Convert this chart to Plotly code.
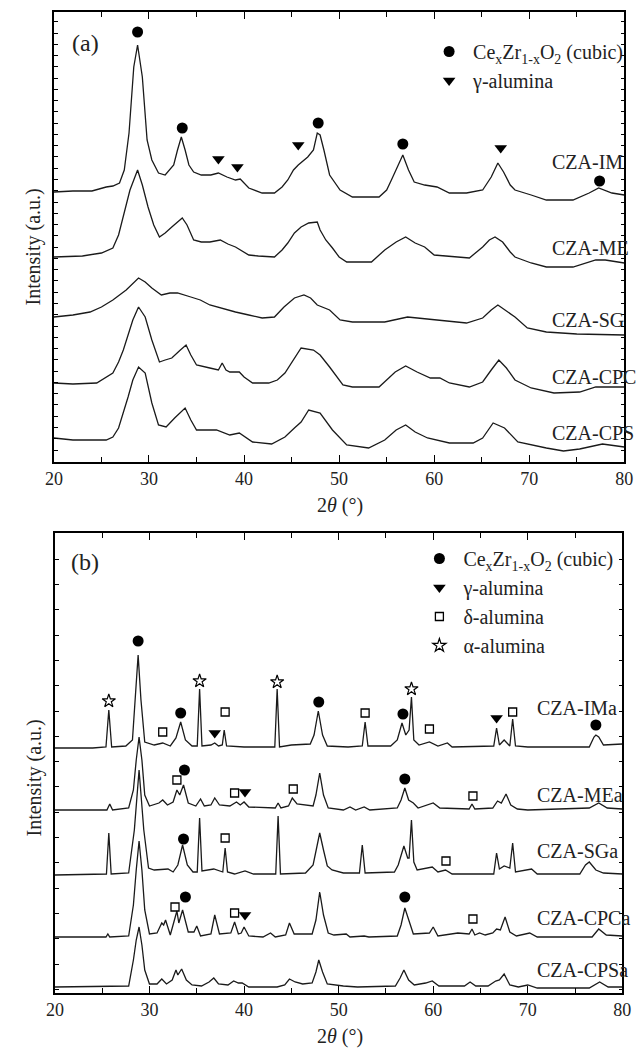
import plotly.graph_objects as go

# ---------------- Panel (a) data (2theta in degrees, intensity in a.u. incl. offset) ----------
im_x = [20, 22, 24, 25.5, 26.2, 26.9, 27.4, 27.9, 28.4, 28.8, 29.3, 29.8, 30.3, 31.0, 31.7, 32.6, 33.0, 33.4, 33.8, 34.2,
        34.7, 35.5, 36.5, 37.3, 38.2, 39.1, 39.6, 40.5, 41.9, 43.2, 44.0, 44.6, 45.2, 45.7, 46.7, 47.3, 47.7, 48.0, 48.4,
        49.0, 50.1, 51.4, 54.2, 55.0, 55.5, 56.2, 56.7, 57.3, 57.9, 59.0, 60.3, 61.6, 63.4, 65.1, 66.0, 66.7, 67.3, 68.0,
        68.5, 70.2, 71.8, 74.6, 76.3, 77.3, 78.7, 80]
im_y = [270, 271, 271, 275, 276, 279, 292, 329, 395, 417, 385, 322, 302, 289, 287, 297, 312, 325, 312, 297,
        290, 287, 287, 289, 285, 282, 283, 274, 269, 269, 275, 282, 292, 297, 305, 312, 329, 327, 312,
        287, 272, 265, 265, 272, 282, 297, 307, 292, 280, 277, 275, 269, 269, 272, 285, 299, 290, 277,
        272, 267, 262, 262, 269, 274, 269, 267]

me_x = [20, 23, 25, 26.2, 26.8, 27.3, 28.0, 28.8, 29.3, 29.9, 30.5, 31.1, 31.7, 32.4, 33.0, 33.5, 34.0, 34.7, 35.5, 36.4,
        37.5, 38.3, 39.1, 40.5, 41.5, 43.2, 44.0, 44.6, 45.3, 46.0, 46.8, 47.7, 48.0, 48.6, 49.3, 50.0, 50.8, 53.4, 54.8,
        56.0, 57.0, 58.0, 59.0, 60.0, 63.7, 65.1, 65.8, 66.4, 67.2, 68.0, 68.5, 70.2, 71.8, 74.6, 77.0, 78.0, 80]
me_y = [205, 206, 209, 214, 227, 245, 272, 292, 277, 255, 237, 225, 229, 235, 240, 244, 237, 222, 220, 220,
        222, 218, 215, 207, 206, 205, 212, 219, 229, 235, 239, 240, 232, 222, 214, 205, 200, 200, 212,
        220, 225, 219, 215, 207, 204, 215, 222, 225, 220, 210, 205, 199, 195, 195, 202, 202, 199]

sg_x = [20, 22, 23.8, 25, 26.2, 27.6, 28.9, 29.6, 30.3, 31.3, 32.2, 33.0, 34.4, 35.4, 36.4, 37.8, 39.1, 40.5, 41.9, 43.2,
        44.2, 45.3, 46.3, 47.0, 47.7, 49.0, 50.1, 51.4, 54.8, 57.2, 60.0, 63.4, 65.1, 66.0, 66.7, 67.5, 68.5, 69.8, 71.8,
        75, 80]
sg_y = [145, 147, 150, 155, 162, 172, 184, 180, 174, 167, 169, 169, 165, 162, 157, 153, 150, 147, 144, 145,
        155, 164, 167, 164, 157, 152, 142, 140, 140, 145, 142, 139, 144, 152, 157, 152, 145, 134, 130,
        128, 127]

cpc_x = [20, 22, 24.5, 26.2, 26.8, 27.3, 27.8, 28.3, 28.9, 29.6, 30.3, 31.1, 31.7, 32.4, 33.3, 33.9, 34.4, 35.0, 36.4,
         37.3, 37.7, 38.1, 38.5, 39.5, 40.0, 40.9, 42.6, 43.5, 44.3, 45.2, 46.0, 47.3, 48.0, 49.0, 50.4, 51.4, 54.2,
         55.9, 57.0, 58.2, 59.6, 60.6, 61.6, 63.7, 65.1, 66.0, 66.8, 67.6, 68.5, 70.2, 72.6, 75.3, 77.0, 80]
cpc_y = [79, 78, 79, 89, 100, 112, 127, 142, 155, 145, 122, 100, 102, 104, 112, 117, 107, 97, 94,
         92, 99, 92, 90, 90, 85, 79, 79, 82, 89, 102, 114, 112, 107, 95, 77, 75, 75,
         90, 96, 90, 84, 84, 79, 75, 80, 92, 102, 94, 82, 74, 69, 70, 75, 75]

cps_x = [20, 22, 25.5, 26.2, 26.8, 27.3, 27.8, 28.3, 28.9, 29.6, 30.3, 31.0, 31.8, 32.7, 33.8, 34.4, 35.0, 37.1, 38.5,
         39.5, 40.9, 42.9, 44.3, 45.3, 46.0, 46.8, 48.0, 49.3, 50.8, 53.1, 54.8, 56.0, 57.0, 58.0, 59.3, 61.6, 64.1,
         65.1, 65.7, 66.2, 67.4, 68.8, 71.8, 73.6, 75.3, 77.7, 80]
cps_y = [24, 22, 22, 25, 34, 49, 65, 82, 95, 89, 59, 37, 35, 44, 54, 42, 32, 32, 27,
         29, 20, 18, 25, 34, 40, 52, 49, 32, 17, 14, 22, 32, 37, 30, 24, 19, 19,
         24, 32, 39, 34, 20, 14, 11, 13, 18, 15]

names_a = ["CZA-IM", "CZA-ME", "CZA-SG", "CZA-CPC", "CZA-CPS"]
label_y_a = [300, 214, 142, 85, 29]

cubic_a_x = [28.8, 33.5, 47.8, 56.7, 77.4]
cubic_a_y = [430, 334, 339, 318, 281]
gamma_a_x = [37.3, 39.3, 45.7, 67.0]
gamma_a_y = [303, 295, 317, 314]

# ---------------- Panel (b) data ----------------
ima_x = [20, 24, 25.4, 25.7, 26.0, 27.5, 28.2, 28.5, 28.8, 29.1, 29.5, 30.5, 31.4, 32.2, 32.8, 33.3, 33.8, 34.5, 35.05,
         35.3, 35.55, 36.5, 36.9, 37.3, 37.7, 37.9, 38.15, 40, 42, 43.25, 43.5, 43.75, 45, 47.0, 47.4, 47.85, 48.3,
         48.8, 51, 52.5, 52.8, 53.1, 55.5, 56.2, 56.7, 57.1, 57.45, 57.7, 57.95, 58.5, 59.6, 60.5, 61.5, 62, 66.4,
         66.7, 67.0, 67.5, 68.1, 68.4, 68.7, 70, 76.5, 77.0, 77.2, 77.5, 78, 80]
ima_y = [245, 245, 246, 283, 246, 247, 253, 293, 338, 293, 251, 248, 250, 247, 255, 271, 253, 247, 247,
         304, 247, 248, 250, 247, 248, 263, 247, 246, 246, 246, 304, 246, 248, 249, 258, 282, 258,
         247, 246, 247, 271, 247, 247, 253, 270, 258, 263, 296, 253, 248, 251, 247, 250, 246, 247,
         265, 248, 253, 247, 274, 247, 246, 246, 256, 258, 256, 248, 249]

mea_x = [20, 25.5, 25.8, 26.1, 27.8, 28.3, 28.6, 28.9, 29.2, 29.5, 30.0, 31.0, 31.4, 31.9, 32.5, 32.9, 33.2, 33.6, 34.1,
         34.9, 35.4, 35.8, 36.5, 36.9, 37.4, 38.5, 39.2, 39.6, 40.0, 40.5, 43.3, 43.6, 43.9, 44.7, 45.1, 45.6, 47.3,
         47.6, 48.0, 48.4, 48.9, 50.5, 51.2, 51.8, 52.7, 53.3, 56.2, 56.6, 57.0, 57.4, 57.9, 58.4, 60.0, 60.7, 63.8,
         64.1, 64.4, 66.3, 66.8, 67.2, 67.7, 68.2, 68.9, 70, 76.5, 77.5, 78.4, 80]
mea_y = [183, 183, 189, 183, 185, 203, 233, 256, 233, 198, 187, 190, 193, 188, 191, 203, 198, 208, 190,
         187, 194, 187, 188, 195, 188, 187, 191, 188, 191, 186, 185, 190, 185, 187, 195, 189, 187,
         198, 220, 198, 185, 183, 186, 183, 186, 183, 185, 193, 205, 193, 190, 185, 190, 185, 184,
         189, 184, 185, 192, 190, 199, 188, 184, 183, 185, 190, 185, 184]

sga_x = [20, 25.45, 25.7, 25.95, 27.8, 28.4, 28.9, 29.4, 29.9, 30.5, 31.96, 32.5, 33.0, 33.5, 34.0, 34.6, 35.05, 35.3,
         35.55, 36.8, 37.75, 38.0, 38.25, 39.0, 40.1, 41.0, 43.35, 43.6, 43.85, 46.5, 47.3, 47.6, 48.0, 48.4, 48.8,
         49.3, 50.5, 52.2, 52.5, 52.8, 55.9, 56.3, 56.9, 57.3, 57.45, 57.7, 57.95, 58.3, 59.9, 60.5, 61.3, 62, 66.4,
         66.7, 67.0, 67.5, 68.1, 68.4, 68.7, 70.4, 71, 75.5, 76.1, 76.5, 77.2, 78, 80]
sga_y = [118, 119, 160, 119, 120, 163, 223, 163, 125, 123, 124, 121, 128, 148, 128, 121, 121, 175,
         122, 124, 121, 145, 121, 119, 122, 119, 119, 177, 119, 120, 128, 143, 160, 143, 127,
         123, 120, 120, 148, 120, 121, 128, 147, 135, 135, 173, 131, 123, 126, 121, 123, 119, 119,
         140, 124, 127, 125, 150, 121, 124, 119, 119, 128, 131, 123, 120, 119]

cpca_x = [20, 25.4, 25.6, 25.8, 27.8, 28.3, 28.6, 28.9, 29.2, 29.5, 30.0, 30.8, 31.3, 31.5, 31.7, 32.2, 32.9, 33.1,
          33.5, 34.1, 34.7, 35.0, 35.4, 36.5, 36.9, 37.4, 38.6, 39.0, 39.4, 39.7, 40.0, 40.5, 42.0, 42.8, 43.3, 44.4,
          44.8, 45.3, 47.2, 47.6, 48.0, 48.4, 48.9, 49.5, 50.8, 51.2, 52.7, 53.2, 56.2, 56.6, 57.0, 57.4, 57.9, 59.6,
          60.0, 60.5, 62.6, 63.8, 64.1, 64.4, 64.9, 65.5, 66.3, 66.7, 67.1, 67.6, 68.1, 68.8, 70.2, 71, 76.8, 77.5,
          78.3, 80]
cpca_y = [56, 56, 59, 56, 57, 88, 123, 152, 123, 83, 59, 60, 70, 68, 73, 58, 82, 70,
          83, 61, 61, 67, 57, 59, 78, 59, 60, 71, 59, 60, 66, 57, 56, 60, 56, 58,
          70, 59, 59, 73, 101, 78, 60, 58, 59, 56, 57, 56, 57, 68, 85, 73, 59, 60,
          66, 57, 60, 59, 64, 58, 60, 58, 60, 64, 63, 76, 61, 57, 60, 56, 56, 64,
          58, 57]

cpsa_x = [20, 27.8, 28.3, 28.6, 28.9, 29.2, 29.5, 30.0, 30.8, 31.3, 31.8, 32.4, 32.8, 33.0, 33.4, 33.9, 34.5, 35.5,
          36.3, 36.8, 37.3, 38.3, 38.9, 39.4, 39.8, 40.5, 43.5, 44.3, 44.8, 45.4, 46.2, 47.2, 47.6, 47.9, 48.3, 48.8,
          50.5, 52, 56.0, 56.5, 56.9, 57.4, 58.0, 59.2, 59.9, 60.6, 63.3, 63.9, 64.5, 65.8, 66.6, 67.0, 67.5, 68.1,
          69.0, 70.0, 71, 76.5, 77.6, 78.5, 80]
cpsa_y = [6, 7, 33, 53, 66, 48, 23, 9, 9, 14, 9, 13, 23, 18, 24, 13, 8, 7,
          11, 15, 9, 8, 12, 10, 10, 6, 6, 8, 14, 11, 9, 10, 21, 33, 21, 9,
          7, 6, 7, 15, 23, 13, 8, 10, 12, 7, 7, 11, 7, 7, 12, 13, 19, 8,
          6, 8, 5, 5, 11, 6, 6]

names_b = ["CZA-IMa", "CZA-MEa", "CZA-SGa", "CZA-CPCa", "CZA-CPSa"]
label_y_b = [285, 198, 142, 75, 23]

cubic_b_x = [28.8, 33.3, 47.9, 56.8, 77.2, 33.7, 57.0, 33.6, 33.8, 57.0]
cubic_b_y = [352, 280, 291, 279, 268, 223, 214, 154, 96, 96]
gamma_b_x = [36.9, 66.7, 40.1, 40.1]
gamma_b_y = [260, 275, 201, 78]
delta_b_x = [31.4, 38.0, 52.8, 59.6, 68.4, 32.9, 39.0, 45.2, 64.2, 38.0, 61.35, 32.7, 39.0, 64.2]
delta_b_y = [261, 281, 280, 264, 281, 213, 200, 204, 197, 155, 132, 86, 80, 74]
alpha_b_x = [25.7, 35.3, 43.5, 57.7]
alpha_b_y = [292, 312, 311, 304]

legend_names = ["Ce<sub>x</sub>Zr<sub>1-x</sub>O<sub>2</sub> (cubic)", "\u03b3-alumina",
                "\u03b4-alumina", "\u03b1-alumina"]

# ---------------- figure ----------------
# the page has an 8 px body margin, so the figure itself is 8 px smaller and placed at (8, 8)
OFF = 8
W, H = 644 - OFF, 1048 - OFF
FONT = "Liberation Serif, Times New Roman, serif"
INK = "#1a1a1a"


def px(x):  # page pixel -> paper fraction
    return (x - OFF) / W


def py(y):
    return 1 - (y - OFF) / H


fig = go.Figure()

curves_a = [(im_x, im_y), (me_x, me_y), (sg_x, sg_y), (cpc_x, cpc_y), (cps_x, cps_y)]
curves_b = [(ima_x, ima_y), (mea_x, mea_y), (sga_x, sga_y), (cpca_x, cpca_y), (cpsa_x, cpsa_y)]

for (xs, ys), nm in zip(curves_a, names_a):
    fig.add_trace(go.Scatter(x=xs, y=ys, mode="lines", name=nm, showlegend=False,
                             line=dict(color=INK, width=1.3), xaxis="x", yaxis="y"))
for (xs, ys), nm in zip(curves_b, names_b):
    fig.add_trace(go.Scatter(x=xs, y=ys, mode="lines", name=nm, showlegend=False,
                             line=dict(color=INK, width=1.3), xaxis="x2", yaxis="y2"))

circle = dict(symbol="circle", size=11, color="black", line=dict(width=0))
tri = dict(symbol="triangle-down", size=11, color="black", line=dict(width=0))
sq = dict(symbol="square-open", size=8, color="black", line=dict(width=1.3))
star = dict(symbol="star-open", size=10, color="black", line=dict(width=1.2))

fig.add_trace(go.Scatter(x=cubic_a_x, y=cubic_a_y, mode="markers", marker=circle, name=legend_names[0],
                         xaxis="x", yaxis="y", legend="legend"))
fig.add_trace(go.Scatter(x=gamma_a_x, y=gamma_a_y, mode="markers", marker=tri, name=legend_names[1],
                         xaxis="x", yaxis="y", legend="legend"))
fig.add_trace(go.Scatter(x=cubic_b_x, y=cubic_b_y, mode="markers", marker=circle, name=legend_names[0],
                         xaxis="x2", yaxis="y2", legend="legend2"))
fig.add_trace(go.Scatter(x=gamma_b_x, y=gamma_b_y, mode="markers", marker=tri, name=legend_names[1],
                         xaxis="x2", yaxis="y2", legend="legend2"))
fig.add_trace(go.Scatter(x=delta_b_x, y=delta_b_y, mode="markers", marker=sq, name=legend_names[2],
                         xaxis="x2", yaxis="y2", legend="legend2"))
fig.add_trace(go.Scatter(x=alpha_b_x, y=alpha_b_y, mode="markers", marker=star, name=legend_names[3],
                         xaxis="x2", yaxis="y2", legend="legend2"))


def xax(domain):
    return dict(domain=domain, range=[20, 80], dtick=10, tick0=20, ticks="inside", ticklen=7, tickwidth=1.3,
                tickcolor="black", showline=True, linecolor="black", linewidth=1.5, mirror="ticks",
                showgrid=False, zeroline=False, ticklabelstandoff=0,
                tickfont=dict(family=FONT, size=18, color="#222"),
                minor=dict(dtick=5, ticks="inside", ticklen=5, tickwidth=1.2, tickcolor="black", showgrid=False))


def yax(domain, rng, tick0, dtick, anchor):
    return dict(domain=domain, range=rng, tick0=tick0, dtick=dtick, ticks="inside", ticklen=4, tickwidth=1.1,
                tickcolor="black", showticklabels=False, showline=True, linecolor="black", linewidth=1.5,
                mirror="ticks", showgrid=False, zeroline=False, anchor=anchor)


fig.update_layout(
    width=W, height=H, margin=dict(l=0, r=0, t=0, b=0),
    paper_bgcolor="white", plot_bgcolor="white",
    font=dict(family=FONT, size=20, color="#222"),
    xaxis=dict(xax([px(46), px(633)]), anchor="y"),
    yaxis=yax([py(462), py(12)], [0, 450], 12, 11.27, "x"),
    xaxis2=dict(xax([px(47), px(631)]), anchor="y2"),
    yaxis2=yax([py(993), py(533)], [0, 460], 3.7, 25.3, "x2"),
    legend=dict(x=px(428), y=py(32), xanchor="left", yanchor="top", bgcolor="rgba(0,0,0,0)",
                font=dict(family=FONT, size=20, color="#222"), itemwidth=38, tracegroupgap=0),
    legend2=dict(x=px(418), y=py(539), xanchor="left", yanchor="top", bgcolor="rgba(0,0,0,0)",
                 font=dict(family=FONT, size=20, color="#222"), itemwidth=38, tracegroupgap=0),
    showlegend=True,
)

ann = []
for nm, yv in zip(names_a, label_y_a):
    ann.append(dict(x=72.15, y=yv, xref="x", yref="y", text=nm, showarrow=False, xanchor="left",
                    yanchor="middle", font=dict(family=FONT, size=20, color="#222")))
for nm, yv in zip(names_b, label_y_b):
    ann.append(dict(x=70.8, y=yv, xref="x2", yref="y2", text=nm, showarrow=False, xanchor="left",
                    yanchor="middle", font=dict(family=FONT, size=20, color="#222")))


def label(x, y, text, size, angle=0):
    return dict(x=px(x), y=py(y), xref="paper", yref="paper", text=text, showarrow=False,
                xanchor="center", yanchor="middle", textangle=angle,
                font=dict(family=FONT, size=size, color="#222"))


ann += [
    label(78, 43, "(a)", 24),
    label(78, 562, "(b)", 24),
    label(340, 505, "2<i>\u03b8</i> (\u00b0)", 20),
    label(340, 1036, "2<i>\u03b8</i> (\u00b0)", 20),
    label(25, 247, "Intensity (a.u.)", 20, -90),
    label(25, 778, "Intensity (a.u.)", 20, -90),
]
fig.update_layout(annotations=ann)

fig.write_html("out.html")
